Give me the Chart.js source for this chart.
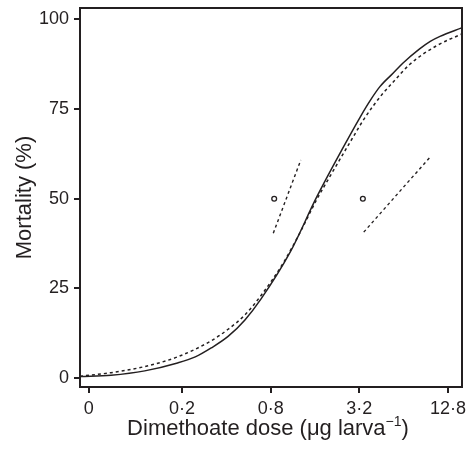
<!DOCTYPE html>
<html>
<head>
<meta charset="utf-8">
<script src="https://cdn.jsdelivr.net/npm/chart.js@4"></script>
<style>
  html, body { margin: 0; padding: 0; background: #fff; }
  #wrap { width: 470px; height: 450px; }
</style>
</head>
<body>
<div id="wrap"><canvas id="mortChart"></canvas></div>
<script>
// x values are positions on the log4 dose axis (0·2 = 0, 0·8 = 1, ...)
const xTickPos = [-1.05, 0, 1, 2, 3];
const xTickLabels = ['0', '0·2', '0·8', '3·2', '12·8'];
const yTickVals = [0, 25, 50, 75, 100];

const solidX = [-1.15, -0.80, -0.42, -0.05, 0.15, 0.33, 0.52, 0.71, 0.89, 1.22, 1.52, 1.82, 2.01, 2.12, 2.23, 2.38, 2.49, 2.68, 2.80, 2.91, 3.16];
const solidY = [0.4, 0.8, 2.0, 4.2, 5.9, 8.4, 11.6, 16.2, 22.0, 35.1, 50.5, 64.4, 72.8, 77.3, 81.2, 85.0, 87.8, 91.8, 93.9, 95.3, 97.7];

const dashX = [-1.15, -0.80, -0.42, -0.05, 0.33, 0.52, 0.71, 0.90, 1.14, 1.33, 1.52, 1.64, 1.93, 2.06, 2.27, 2.38, 2.57, 2.88, 3.16];
const dashY = [0.5, 1.5, 3.2, 5.9, 10.4, 13.6, 17.6, 23.3, 32.0, 40.5, 49.8, 55.0, 67.2, 72.5, 79.5, 82.5, 87.5, 92.8, 96.0];

// LD50 estimates and their 95% limits
const ldX = [1.04, 2.04];
const ldY = [50, 50];
const ciLeftX = [1.03, 1.34];
const ciLeftY = [40.4, 60.8];
const ciRightX = [2.05, 2.79];
const ciRightY = [40.7, 61.4];

const ink = '#231f20';
const fontFamily = '"Liberation Sans", Arial, Helvetica, sans-serif';

function pts(xs, ys) {
    return xs.map((x, i) => ({ x: x, y: ys[i] }));
}

const frameBox = {
    id: 'frameBox',
    afterDraw(chart) {
        const { ctx, chartArea: a } = chart;
        ctx.save();
        ctx.strokeStyle = ink;
        ctx.lineWidth = 2;
        ctx.strokeRect(a.left, a.top, a.right - a.left, a.bottom - a.top);

        // x axis title with superscript
        const main = 'Dimethoate dose (μg larva';
        const sup = '−1';
        const tail = ')';
        ctx.fillStyle = ink;
        ctx.textBaseline = 'alphabetic';
        ctx.font = '22px ' + fontFamily;
        const wMain = ctx.measureText(main).width;
        const wTail = ctx.measureText(tail).width;
        ctx.font = '14px ' + fontFamily;
        const wSup = ctx.measureText(sup).width;
        const total = wMain + wSup + wTail;
        const cx = (a.left + a.right) / 2 - 3;
        let x = cx - total / 2;
        const base = a.bottom + 48;
        ctx.font = '22px ' + fontFamily;
        ctx.fillText(main, x, base);
        x += wMain;
        ctx.font = '14px ' + fontFamily;
        ctx.fillText(sup, x, base - 9);
        x += wSup;
        ctx.font = '22px ' + fontFamily;
        ctx.fillText(tail, x, base);
        ctx.restore();
    }
};

const lineDefaults = { showLine: true, pointRadius: 0, borderColor: ink, fill: false };

new Chart(document.getElementById('mortChart'), {
    type: 'scatter',
    data: {
        datasets: [
            Object.assign({}, lineDefaults, {
                label: 'Fitted',
                data: pts(solidX, solidY),
                borderWidth: 1.5,
                cubicInterpolationMode: 'monotone'
            }),
            Object.assign({}, lineDefaults, {
                label: 'Observed fit',
                data: pts(dashX, dashY),
                borderWidth: 1.5,
                borderDash: [3, 3],
                cubicInterpolationMode: 'monotone'
            }),
            Object.assign({}, lineDefaults, {
                label: 'CI left',
                data: pts(ciLeftX, ciLeftY),
                borderWidth: 1.4,
                borderDash: [3, 3]
            }),
            Object.assign({}, lineDefaults, {
                label: 'CI right',
                data: pts(ciRightX, ciRightY),
                borderWidth: 1.4,
                borderDash: [3, 3]
            }),
            {
                label: 'LD50',
                data: pts(ldX, ldY),
                showLine: false,
                pointRadius: 2.4,
                pointStyle: 'circle',
                pointBackgroundColor: '#fff',
                pointBorderColor: ink,
                pointBorderWidth: 1.3
            }
        ]
    },
    options: {
        responsive: true,
        maintainAspectRatio: false,
        animation: false,
        layout: { padding: { top: 8, right: 8, left: 0, bottom: 0 } },
        plugins: {
            legend: { display: false },
            tooltip: { enabled: false }
        },
        scales: {
            x: {
                type: 'linear',
                min: -1.15,
                max: 3.158,
                afterBuildTicks: (scale) => { scale.ticks = xTickPos.map(v => ({ value: v })); },
                afterFit: (scale) => {
                    scale.height = 63;
                    scale.paddingLeft = 0;
                    scale.paddingRight = 0;
                },
                border: { display: false },
                grid: { display: true, drawOnChartArea: false, drawTicks: true, tickLength: 6, color: ink, lineWidth: 2 },
                ticks: {
                    color: ink,
                    padding: 5,
                    maxRotation: 0,
                    font: { family: fontFamily, size: 18 },
                    callback: (v) => {
                        const i = xTickPos.indexOf(v);
                        return i >= 0 ? xTickLabels[i] : '';
                    }
                }
            },
            y: {
                type: 'linear',
                min: -2.5,
                max: 103.2,
                afterBuildTicks: (scale) => { scale.ticks = yTickVals.map(v => ({ value: v })); },
                afterFit: (scale) => {
                    scale.width = 80;
                    scale.paddingTop = 0;
                    scale.paddingBottom = 0;
                },
                border: { display: false },
                grid: { display: true, drawOnChartArea: false, drawTicks: true, tickLength: 6, color: ink, lineWidth: 2 },
                ticks: {
                    color: ink,
                    padding: 5,
                    font: { family: fontFamily, size: 18 }
                },
                title: {
                    display: true,
                    text: 'Mortality (%)',
                    color: ink,
                    font: { family: fontFamily, size: 22 },
                    padding: { top: 12, bottom: 0 }
                }
            }
        }
    },
    plugins: [frameBox]
});
</script>
</body>
</html>
